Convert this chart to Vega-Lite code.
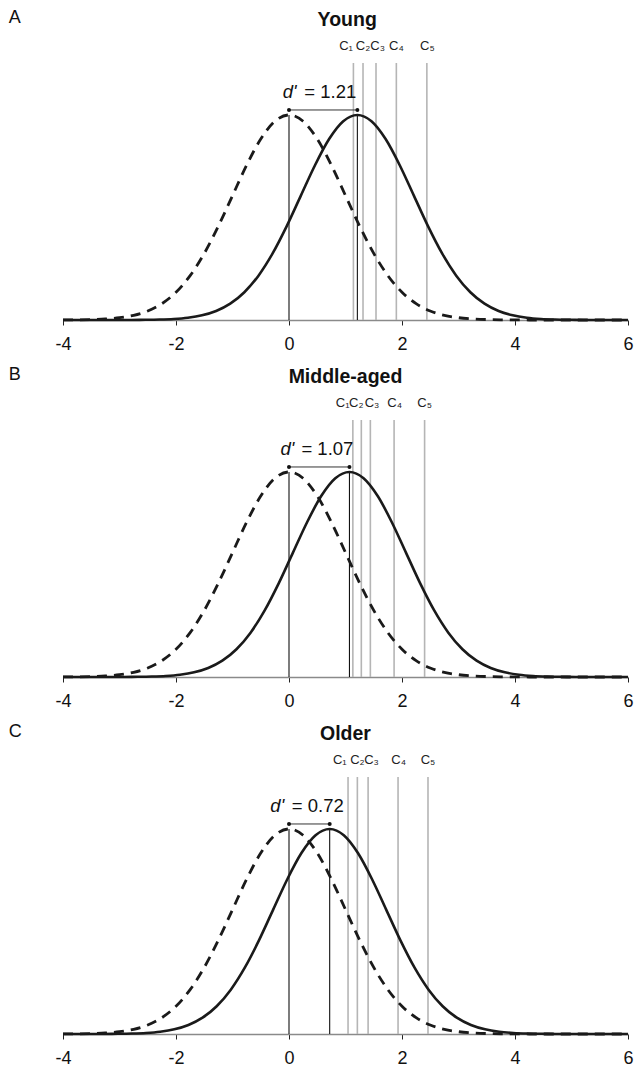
{
  "$schema": "https://vega.github.io/schema/vega-lite/v6.json",
  "padding": {"left": 8, "top": 8, "right": 0, "bottom": 0},
  "background": "white",
  "datasets": {
    "noise": [
      {"x": -4, "y": 0.000134}, {"x": -3.75, "y": 0.000353}, {"x": -3.5, "y": 0.000873}, {"x": -3.25, "y": 0.002029},
      {"x": -3, "y": 0.004432}, {"x": -2.75, "y": 0.009094}, {"x": -2.5, "y": 0.017528}, {"x": -2.25, "y": 0.03174},
      {"x": -2, "y": 0.053991}, {"x": -1.75, "y": 0.086277}, {"x": -1.5, "y": 0.129518}, {"x": -1.25, "y": 0.182649},
      {"x": -1, "y": 0.241971}, {"x": -0.75, "y": 0.301137}, {"x": -0.5, "y": 0.352065}, {"x": -0.25, "y": 0.386668},
      {"x": 0, "y": 0.398942}, {"x": 0.25, "y": 0.386668}, {"x": 0.5, "y": 0.352065}, {"x": 0.75, "y": 0.301137},
      {"x": 1, "y": 0.241971}, {"x": 1.25, "y": 0.182649}, {"x": 1.5, "y": 0.129518}, {"x": 1.75, "y": 0.086277},
      {"x": 2, "y": 0.053991}, {"x": 2.25, "y": 0.03174}, {"x": 2.5, "y": 0.017528}, {"x": 2.75, "y": 0.009094},
      {"x": 3, "y": 0.004432}, {"x": 3.25, "y": 0.002029}, {"x": 3.5, "y": 0.000873}, {"x": 3.75, "y": 0.000353},
      {"x": 4, "y": 0.000134}, {"x": 4.25, "y": 0.000048}, {"x": 4.5, "y": 0.000016}, {"x": 4.75, "y": 0.000005},
      {"x": 5, "y": 0.0000015}, {"x": 5.25, "y": 0.0000004}, {"x": 5.5, "y": 0.0000001}, {"x": 5.75, "y": 0}, {"x": 6, "y": 0}
    ],
    "signal": [
      {"p": "A", "x": -4, "y": 0.0000003}, {"p": "A", "x": -3.79, "y": 0.0000015}, {"p": "A", "x": -3.54, "y": 0.000005},
      {"p": "A", "x": -3.29, "y": 0.000016}, {"p": "A", "x": -3.04, "y": 0.000048}, {"p": "A", "x": -2.79, "y": 0.000134},
      {"p": "A", "x": -2.54, "y": 0.000353}, {"p": "A", "x": -2.29, "y": 0.000873}, {"p": "A", "x": -2.04, "y": 0.002029},
      {"p": "A", "x": -1.79, "y": 0.004432}, {"p": "A", "x": -1.54, "y": 0.009094}, {"p": "A", "x": -1.29, "y": 0.017528},
      {"p": "A", "x": -1.04, "y": 0.03174}, {"p": "A", "x": -0.79, "y": 0.053991}, {"p": "A", "x": -0.54, "y": 0.086277},
      {"p": "A", "x": -0.29, "y": 0.129518}, {"p": "A", "x": -0.04, "y": 0.182649}, {"p": "A", "x": 0.21, "y": 0.241971},
      {"p": "A", "x": 0.46, "y": 0.301137}, {"p": "A", "x": 0.71, "y": 0.352065}, {"p": "A", "x": 0.96, "y": 0.386668},
      {"p": "A", "x": 1.21, "y": 0.398942}, {"p": "A", "x": 1.46, "y": 0.386668}, {"p": "A", "x": 1.71, "y": 0.352065},
      {"p": "A", "x": 1.96, "y": 0.301137}, {"p": "A", "x": 2.21, "y": 0.241971}, {"p": "A", "x": 2.46, "y": 0.182649},
      {"p": "A", "x": 2.71, "y": 0.129518}, {"p": "A", "x": 2.96, "y": 0.086277}, {"p": "A", "x": 3.21, "y": 0.053991},
      {"p": "A", "x": 3.46, "y": 0.03174}, {"p": "A", "x": 3.71, "y": 0.017528}, {"p": "A", "x": 3.96, "y": 0.009094},
      {"p": "A", "x": 4.21, "y": 0.004432}, {"p": "A", "x": 4.46, "y": 0.002029}, {"p": "A", "x": 4.71, "y": 0.000873},
      {"p": "A", "x": 4.96, "y": 0.000353}, {"p": "A", "x": 5.21, "y": 0.000134}, {"p": "A", "x": 5.46, "y": 0.000048},
      {"p": "A", "x": 5.71, "y": 0.000016}, {"p": "A", "x": 5.96, "y": 0.000005}, {"p": "A", "x": 6, "y": 0.000004},

      {"p": "B", "x": -4, "y": 0.000001}, {"p": "B", "x": -3.93, "y": 0.0000015}, {"p": "B", "x": -3.68, "y": 0.000005},
      {"p": "B", "x": -3.43, "y": 0.000016}, {"p": "B", "x": -3.18, "y": 0.000048}, {"p": "B", "x": -2.93, "y": 0.000134},
      {"p": "B", "x": -2.68, "y": 0.000353}, {"p": "B", "x": -2.43, "y": 0.000873}, {"p": "B", "x": -2.18, "y": 0.002029},
      {"p": "B", "x": -1.93, "y": 0.004432}, {"p": "B", "x": -1.68, "y": 0.009094}, {"p": "B", "x": -1.43, "y": 0.017528},
      {"p": "B", "x": -1.18, "y": 0.03174}, {"p": "B", "x": -0.93, "y": 0.053991}, {"p": "B", "x": -0.68, "y": 0.086277},
      {"p": "B", "x": -0.43, "y": 0.129518}, {"p": "B", "x": -0.18, "y": 0.182649}, {"p": "B", "x": 0.07, "y": 0.241971},
      {"p": "B", "x": 0.32, "y": 0.301137}, {"p": "B", "x": 0.57, "y": 0.352065}, {"p": "B", "x": 0.82, "y": 0.386668},
      {"p": "B", "x": 1.07, "y": 0.398942}, {"p": "B", "x": 1.32, "y": 0.386668}, {"p": "B", "x": 1.57, "y": 0.352065},
      {"p": "B", "x": 1.82, "y": 0.301137}, {"p": "B", "x": 2.07, "y": 0.241971}, {"p": "B", "x": 2.32, "y": 0.182649},
      {"p": "B", "x": 2.57, "y": 0.129518}, {"p": "B", "x": 2.82, "y": 0.086277}, {"p": "B", "x": 3.07, "y": 0.053991},
      {"p": "B", "x": 3.32, "y": 0.03174}, {"p": "B", "x": 3.57, "y": 0.017528}, {"p": "B", "x": 3.82, "y": 0.009094},
      {"p": "B", "x": 4.07, "y": 0.004432}, {"p": "B", "x": 4.32, "y": 0.002029}, {"p": "B", "x": 4.57, "y": 0.000873},
      {"p": "B", "x": 4.82, "y": 0.000353}, {"p": "B", "x": 5.07, "y": 0.000134}, {"p": "B", "x": 5.32, "y": 0.000048},
      {"p": "B", "x": 5.57, "y": 0.000016}, {"p": "B", "x": 5.82, "y": 0.000005}, {"p": "B", "x": 6, "y": 0.000002},

      {"p": "C", "x": -4, "y": 0.0000057}, {"p": "C", "x": -3.78, "y": 0.000016}, {"p": "C", "x": -3.53, "y": 0.000048},
      {"p": "C", "x": -3.28, "y": 0.000134}, {"p": "C", "x": -3.03, "y": 0.000353}, {"p": "C", "x": -2.78, "y": 0.000873},
      {"p": "C", "x": -2.53, "y": 0.002029}, {"p": "C", "x": -2.28, "y": 0.004432}, {"p": "C", "x": -2.03, "y": 0.009094},
      {"p": "C", "x": -1.78, "y": 0.017528}, {"p": "C", "x": -1.53, "y": 0.03174}, {"p": "C", "x": -1.28, "y": 0.053991},
      {"p": "C", "x": -1.03, "y": 0.086277}, {"p": "C", "x": -0.78, "y": 0.129518}, {"p": "C", "x": -0.53, "y": 0.182649},
      {"p": "C", "x": -0.28, "y": 0.241971}, {"p": "C", "x": -0.03, "y": 0.301137}, {"p": "C", "x": 0.22, "y": 0.352065},
      {"p": "C", "x": 0.47, "y": 0.386668}, {"p": "C", "x": 0.72, "y": 0.398942}, {"p": "C", "x": 0.97, "y": 0.386668},
      {"p": "C", "x": 1.22, "y": 0.352065}, {"p": "C", "x": 1.47, "y": 0.301137}, {"p": "C", "x": 1.72, "y": 0.241971},
      {"p": "C", "x": 1.97, "y": 0.182649}, {"p": "C", "x": 2.22, "y": 0.129518}, {"p": "C", "x": 2.47, "y": 0.086277},
      {"p": "C", "x": 2.72, "y": 0.053991}, {"p": "C", "x": 2.97, "y": 0.03174}, {"p": "C", "x": 3.22, "y": 0.017528},
      {"p": "C", "x": 3.47, "y": 0.009094}, {"p": "C", "x": 3.72, "y": 0.004432}, {"p": "C", "x": 3.97, "y": 0.002029},
      {"p": "C", "x": 4.22, "y": 0.000873}, {"p": "C", "x": 4.47, "y": 0.000353}, {"p": "C", "x": 4.72, "y": 0.000134},
      {"p": "C", "x": 4.97, "y": 0.000048}, {"p": "C", "x": 5.22, "y": 0.000016}, {"p": "C", "x": 5.47, "y": 0.000005},
      {"p": "C", "x": 5.72, "y": 0.0000015}, {"p": "C", "x": 5.97, "y": 0.0000004}, {"p": "C", "x": 6, "y": 0.0000003}
    ],
    "crit": [
      {"p": "A", "c": "C₁", "x": 1.14, "lx": 1.01}, {"p": "A", "c": "C₂", "x": 1.31, "lx": 1.31},
      {"p": "A", "c": "C₃", "x": 1.54, "lx": 1.57}, {"p": "A", "c": "C₄", "x": 1.9, "lx": 1.9},
      {"p": "A", "c": "C₅", "x": 2.44, "lx": 2.45},
      {"p": "B", "c": "C₁", "x": 1.13, "lx": 0.95}, {"p": "B", "c": "C₂", "x": 1.28, "lx": 1.19},
      {"p": "B", "c": "C₃", "x": 1.44, "lx": 1.47}, {"p": "B", "c": "C₄", "x": 1.86, "lx": 1.87},
      {"p": "B", "c": "C₅", "x": 2.4, "lx": 2.4},
      {"p": "C", "c": "C₁", "x": 1.045, "lx": 0.9}, {"p": "C", "c": "C₂", "x": 1.21, "lx": 1.21},
      {"p": "C", "c": "C₃", "x": 1.4, "lx": 1.46}, {"p": "C", "c": "C₄", "x": 1.93, "lx": 1.94},
      {"p": "C", "c": "C₅", "x": 2.46, "lx": 2.46}
    ],
    "dprime": [
      {"p": "A", "d": 1.21, "t": "= 1.21", "dx0": -0.11, "ex": 0.27, "L": "A", "title": "Young"},
      {"p": "B", "d": 1.07, "t": "= 1.07", "dx0": -0.15, "ex": 0.22, "L": "B", "title": "Middle-aged"},
      {"p": "C", "d": 0.72, "t": "= 0.72", "dx0": -0.33, "ex": 0.05, "L": "C", "title": "Older"}
    ]
  },
  "vconcat": [
    {
      "width": 565, "height": 257,
      "layer": [
        {"data": {"name": "crit"}, "transform": [{"filter": "datum.p == 'A'"}],
         "mark": {"type": "rule", "color": "#b5b5b5", "strokeWidth": 1.6},
         "encoding": {"x": {"field": "x", "type": "quantitative", "scale": {"domain": [-4, 6], "nice": false, "zero": false}, "axis": {"title": null, "values": [-4, -2, 0, 2, 4, 6]}}}},
        {"data": {"name": "dprime"}, "transform": [{"filter": "datum.p == 'A'"}],
         "mark": {"type": "rule", "color": "#111", "strokeWidth": 1.1},
         "encoding": {"x": {"datum": 0, "type": "quantitative", "scale": {"domain": [-4, 6]}, "axis": {"title": null, "values": [-4, -2, 0, 2, 4, 6]}},
           "y": {"datum": 0, "type": "quantitative", "scale": {"domain": [0, 0.5]}, "axis": null}, "y2": {"datum": 0.398942}}},
        {"data": {"name": "dprime"}, "transform": [{"filter": "datum.p == 'A'"}],
         "mark": {"type": "rule", "color": "#111", "strokeWidth": 1.1},
         "encoding": {"x": {"field": "d", "type": "quantitative", "scale": {"domain": [-4, 6]}, "axis": {"title": null, "values": [-4, -2, 0, 2, 4, 6]}},
           "y": {"datum": 0, "type": "quantitative", "scale": {"domain": [0, 0.5]}, "axis": null}, "y2": {"datum": 0.398942}}},
        {"data": {"name": "noise"},
         "mark": {"type": "line", "color": "#1a1a1a", "strokeWidth": 2.8, "strokeDash": [10, 7], "interpolate": "monotone"},
         "encoding": {"x": {"field": "x", "type": "quantitative", "scale": {"domain": [-4, 6]}, "axis": {"title": null, "values": [-4, -2, 0, 2, 4, 6]}},
           "y": {"field": "y", "type": "quantitative", "scale": {"domain": [0, 0.5]}, "axis": null}}},
        {"data": {"name": "signal"}, "transform": [{"filter": "datum.p == 'A'"}],
         "mark": {"type": "line", "color": "#1a1a1a", "strokeWidth": 2.6, "interpolate": "monotone"},
         "encoding": {"x": {"field": "x", "type": "quantitative", "scale": {"domain": [-4, 6]}, "axis": {"title": null, "values": [-4, -2, 0, 2, 4, 6]}},
           "y": {"field": "y", "type": "quantitative", "scale": {"domain": [0, 0.5]}, "axis": null}}},
        {"data": {"name": "dprime"}, "transform": [{"filter": "datum.p == 'A'"}],
         "mark": {"type": "rule", "color": "#333", "strokeWidth": 1},
         "encoding": {"x": {"field": "d", "type": "quantitative", "scale": {"domain": [-4, 6]}, "axis": {"title": null, "values": [-4, -2, 0, 2, 4, 6]}}, "x2": {"datum": 0},
           "y": {"datum": 0.4086, "type": "quantitative", "scale": {"domain": [0, 0.5]}, "axis": null}}},
        {"data": {"name": "dprime"}, "transform": [{"filter": "datum.p == 'A'"}],
         "mark": {"type": "point", "filled": true, "color": "#111", "size": 16, "opacity": 1},
         "encoding": {"x": {"datum": 0, "type": "quantitative", "scale": {"domain": [-4, 6]}, "axis": {"title": null, "values": [-4, -2, 0, 2, 4, 6]}},
           "y": {"datum": 0.4086, "type": "quantitative", "scale": {"domain": [0, 0.5]}, "axis": null}}},
        {"data": {"name": "dprime"}, "transform": [{"filter": "datum.p == 'A'"}],
         "mark": {"type": "point", "filled": true, "color": "#111", "size": 16, "opacity": 1},
         "encoding": {"x": {"field": "d", "type": "quantitative", "scale": {"domain": [-4, 6]}, "axis": {"title": null, "values": [-4, -2, 0, 2, 4, 6]}},
           "y": {"datum": 0.4086, "type": "quantitative", "scale": {"domain": [0, 0.5]}, "axis": null}}},
        {"data": {"name": "dprime"}, "transform": [{"filter": "datum.p == 'A'"}],
         "mark": {"type": "text", "text": "d'", "font": "Liberation Sans", "fontStyle": "italic", "fontSize": 18.5, "align": "left", "baseline": "alphabetic", "color": "#111", "clip": false},
         "encoding": {"x": {"field": "dx0", "type": "quantitative", "scale": {"domain": [-4, 6]}, "axis": {"title": null, "values": [-4, -2, 0, 2, 4, 6]}},
           "y": {"datum": 0.432, "type": "quantitative", "scale": {"domain": [0, 0.5]}, "axis": null}}},
        {"data": {"name": "dprime"}, "transform": [{"filter": "datum.p == 'A'"}],
         "mark": {"type": "text", "font": "Liberation Sans", "fontSize": 18.5, "align": "left", "baseline": "alphabetic", "color": "#111", "clip": false},
         "encoding": {"x": {"field": "ex", "type": "quantitative", "scale": {"domain": [-4, 6]}, "axis": {"title": null, "values": [-4, -2, 0, 2, 4, 6]}},
           "y": {"datum": 0.432, "type": "quantitative", "scale": {"domain": [0, 0.5]}, "axis": null}, "text": {"field": "t"}}},
        {"data": {"name": "crit"}, "transform": [{"filter": "datum.p == 'A'"}],
         "mark": {"type": "text", "font": "Liberation Sans", "fontSize": 13, "align": "center", "baseline": "alphabetic", "color": "#222", "clip": false},
         "encoding": {"x": {"field": "lx", "type": "quantitative", "scale": {"domain": [-4, 6]}, "axis": {"title": null, "values": [-4, -2, 0, 2, 4, 6]}},
           "y": {"datum": 0.526, "type": "quantitative", "scale": {"domain": [0, 0.5]}, "axis": null}, "text": {"field": "c"}}},
        {"data": {"name": "dprime"}, "transform": [{"filter": "datum.p == 'A'"}],
         "mark": {"type": "text", "font": "Liberation Sans", "fontSize": 18, "align": "left", "baseline": "alphabetic", "color": "#111", "clip": false},
         "encoding": {"x": {"datum": -4.96, "type": "quantitative", "scale": {"domain": [-4, 6]}, "axis": {"title": null, "values": [-4, -2, 0, 2, 4, 6]}},
           "y": {"datum": 0.578, "type": "quantitative", "scale": {"domain": [0, 0.5]}, "axis": null}, "text": {"field": "L"}}},
        {"data": {"name": "dprime"}, "transform": [{"filter": "datum.p == 'A'"}],
         "mark": {"type": "text", "font": "Liberation Sans", "fontSize": 19.5, "fontWeight": "bold", "align": "center", "baseline": "alphabetic", "color": "#111", "clip": false},
         "encoding": {"x": {"datum": 1.03, "type": "quantitative", "scale": {"domain": [-4, 6]}, "axis": {"title": null, "values": [-4, -2, 0, 2, 4, 6]}},
           "y": {"datum": 0.572, "type": "quantitative", "scale": {"domain": [0, 0.5]}, "axis": null}, "text": {"field": "title"}}}
      ]
    },
    {
      "width": 565, "height": 257,
      "layer": [
        {"data": {"name": "crit"}, "transform": [{"filter": "datum.p == 'B'"}],
         "mark": {"type": "rule", "color": "#b5b5b5", "strokeWidth": 1.6},
         "encoding": {"x": {"field": "x", "type": "quantitative", "scale": {"domain": [-4, 6], "nice": false, "zero": false}, "axis": {"title": null, "values": [-4, -2, 0, 2, 4, 6]}}}},
        {"data": {"name": "dprime"}, "transform": [{"filter": "datum.p == 'B'"}],
         "mark": {"type": "rule", "color": "#111", "strokeWidth": 1.1},
         "encoding": {"x": {"datum": 0, "type": "quantitative", "scale": {"domain": [-4, 6]}, "axis": {"title": null, "values": [-4, -2, 0, 2, 4, 6]}},
           "y": {"datum": 0, "type": "quantitative", "scale": {"domain": [0, 0.5]}, "axis": null}, "y2": {"datum": 0.398942}}},
        {"data": {"name": "dprime"}, "transform": [{"filter": "datum.p == 'B'"}],
         "mark": {"type": "rule", "color": "#111", "strokeWidth": 1.1},
         "encoding": {"x": {"field": "d", "type": "quantitative", "scale": {"domain": [-4, 6]}, "axis": {"title": null, "values": [-4, -2, 0, 2, 4, 6]}},
           "y": {"datum": 0, "type": "quantitative", "scale": {"domain": [0, 0.5]}, "axis": null}, "y2": {"datum": 0.398942}}},
        {"data": {"name": "noise"},
         "mark": {"type": "line", "color": "#1a1a1a", "strokeWidth": 2.8, "strokeDash": [10, 7], "interpolate": "monotone"},
         "encoding": {"x": {"field": "x", "type": "quantitative", "scale": {"domain": [-4, 6]}, "axis": {"title": null, "values": [-4, -2, 0, 2, 4, 6]}},
           "y": {"field": "y", "type": "quantitative", "scale": {"domain": [0, 0.5]}, "axis": null}}},
        {"data": {"name": "signal"}, "transform": [{"filter": "datum.p == 'B'"}],
         "mark": {"type": "line", "color": "#1a1a1a", "strokeWidth": 2.6, "interpolate": "monotone"},
         "encoding": {"x": {"field": "x", "type": "quantitative", "scale": {"domain": [-4, 6]}, "axis": {"title": null, "values": [-4, -2, 0, 2, 4, 6]}},
           "y": {"field": "y", "type": "quantitative", "scale": {"domain": [0, 0.5]}, "axis": null}}},
        {"data": {"name": "dprime"}, "transform": [{"filter": "datum.p == 'B'"}],
         "mark": {"type": "rule", "color": "#333", "strokeWidth": 1},
         "encoding": {"x": {"field": "d", "type": "quantitative", "scale": {"domain": [-4, 6]}, "axis": {"title": null, "values": [-4, -2, 0, 2, 4, 6]}}, "x2": {"datum": 0},
           "y": {"datum": 0.4086, "type": "quantitative", "scale": {"domain": [0, 0.5]}, "axis": null}}},
        {"data": {"name": "dprime"}, "transform": [{"filter": "datum.p == 'B'"}],
         "mark": {"type": "point", "filled": true, "color": "#111", "size": 16, "opacity": 1},
         "encoding": {"x": {"datum": 0, "type": "quantitative", "scale": {"domain": [-4, 6]}, "axis": {"title": null, "values": [-4, -2, 0, 2, 4, 6]}},
           "y": {"datum": 0.4086, "type": "quantitative", "scale": {"domain": [0, 0.5]}, "axis": null}}},
        {"data": {"name": "dprime"}, "transform": [{"filter": "datum.p == 'B'"}],
         "mark": {"type": "point", "filled": true, "color": "#111", "size": 16, "opacity": 1},
         "encoding": {"x": {"field": "d", "type": "quantitative", "scale": {"domain": [-4, 6]}, "axis": {"title": null, "values": [-4, -2, 0, 2, 4, 6]}},
           "y": {"datum": 0.4086, "type": "quantitative", "scale": {"domain": [0, 0.5]}, "axis": null}}},
        {"data": {"name": "dprime"}, "transform": [{"filter": "datum.p == 'B'"}],
         "mark": {"type": "text", "text": "d'", "font": "Liberation Sans", "fontStyle": "italic", "fontSize": 18.5, "align": "left", "baseline": "alphabetic", "color": "#111", "clip": false},
         "encoding": {"x": {"field": "dx0", "type": "quantitative", "scale": {"domain": [-4, 6]}, "axis": {"title": null, "values": [-4, -2, 0, 2, 4, 6]}},
           "y": {"datum": 0.432, "type": "quantitative", "scale": {"domain": [0, 0.5]}, "axis": null}}},
        {"data": {"name": "dprime"}, "transform": [{"filter": "datum.p == 'B'"}],
         "mark": {"type": "text", "font": "Liberation Sans", "fontSize": 18.5, "align": "left", "baseline": "alphabetic", "color": "#111", "clip": false},
         "encoding": {"x": {"field": "ex", "type": "quantitative", "scale": {"domain": [-4, 6]}, "axis": {"title": null, "values": [-4, -2, 0, 2, 4, 6]}},
           "y": {"datum": 0.432, "type": "quantitative", "scale": {"domain": [0, 0.5]}, "axis": null}, "text": {"field": "t"}}},
        {"data": {"name": "crit"}, "transform": [{"filter": "datum.p == 'B'"}],
         "mark": {"type": "text", "font": "Liberation Sans", "fontSize": 13, "align": "center", "baseline": "alphabetic", "color": "#222", "clip": false},
         "encoding": {"x": {"field": "lx", "type": "quantitative", "scale": {"domain": [-4, 6]}, "axis": {"title": null, "values": [-4, -2, 0, 2, 4, 6]}},
           "y": {"datum": 0.526, "type": "quantitative", "scale": {"domain": [0, 0.5]}, "axis": null}, "text": {"field": "c"}}},
        {"data": {"name": "dprime"}, "transform": [{"filter": "datum.p == 'B'"}],
         "mark": {"type": "text", "font": "Liberation Sans", "fontSize": 18, "align": "left", "baseline": "alphabetic", "color": "#111", "clip": false},
         "encoding": {"x": {"datum": -4.96, "type": "quantitative", "scale": {"domain": [-4, 6]}, "axis": {"title": null, "values": [-4, -2, 0, 2, 4, 6]}},
           "y": {"datum": 0.578, "type": "quantitative", "scale": {"domain": [0, 0.5]}, "axis": null}, "text": {"field": "L"}}},
        {"data": {"name": "dprime"}, "transform": [{"filter": "datum.p == 'B'"}],
         "mark": {"type": "text", "font": "Liberation Sans", "fontSize": 19.5, "fontWeight": "bold", "align": "center", "baseline": "alphabetic", "color": "#111", "clip": false},
         "encoding": {"x": {"datum": 1.0, "type": "quantitative", "scale": {"domain": [-4, 6]}, "axis": {"title": null, "values": [-4, -2, 0, 2, 4, 6]}},
           "y": {"datum": 0.572, "type": "quantitative", "scale": {"domain": [0, 0.5]}, "axis": null}, "text": {"field": "title"}}}
      ]
    },
    {
      "width": 565, "height": 257,
      "layer": [
        {"data": {"name": "crit"}, "transform": [{"filter": "datum.p == 'C'"}],
         "mark": {"type": "rule", "color": "#b5b5b5", "strokeWidth": 1.6},
         "encoding": {"x": {"field": "x", "type": "quantitative", "scale": {"domain": [-4, 6], "nice": false, "zero": false}, "axis": {"title": null, "values": [-4, -2, 0, 2, 4, 6]}}}},
        {"data": {"name": "dprime"}, "transform": [{"filter": "datum.p == 'C'"}],
         "mark": {"type": "rule", "color": "#111", "strokeWidth": 1.1},
         "encoding": {"x": {"datum": 0, "type": "quantitative", "scale": {"domain": [-4, 6]}, "axis": {"title": null, "values": [-4, -2, 0, 2, 4, 6]}},
           "y": {"datum": 0, "type": "quantitative", "scale": {"domain": [0, 0.5]}, "axis": null}, "y2": {"datum": 0.398942}}},
        {"data": {"name": "dprime"}, "transform": [{"filter": "datum.p == 'C'"}],
         "mark": {"type": "rule", "color": "#111", "strokeWidth": 1.1},
         "encoding": {"x": {"field": "d", "type": "quantitative", "scale": {"domain": [-4, 6]}, "axis": {"title": null, "values": [-4, -2, 0, 2, 4, 6]}},
           "y": {"datum": 0, "type": "quantitative", "scale": {"domain": [0, 0.5]}, "axis": null}, "y2": {"datum": 0.398942}}},
        {"data": {"name": "noise"},
         "mark": {"type": "line", "color": "#1a1a1a", "strokeWidth": 2.8, "strokeDash": [10, 7], "interpolate": "monotone"},
         "encoding": {"x": {"field": "x", "type": "quantitative", "scale": {"domain": [-4, 6]}, "axis": {"title": null, "values": [-4, -2, 0, 2, 4, 6]}},
           "y": {"field": "y", "type": "quantitative", "scale": {"domain": [0, 0.5]}, "axis": null}}},
        {"data": {"name": "signal"}, "transform": [{"filter": "datum.p == 'C'"}],
         "mark": {"type": "line", "color": "#1a1a1a", "strokeWidth": 2.6, "interpolate": "monotone"},
         "encoding": {"x": {"field": "x", "type": "quantitative", "scale": {"domain": [-4, 6]}, "axis": {"title": null, "values": [-4, -2, 0, 2, 4, 6]}},
           "y": {"field": "y", "type": "quantitative", "scale": {"domain": [0, 0.5]}, "axis": null}}},
        {"data": {"name": "dprime"}, "transform": [{"filter": "datum.p == 'C'"}],
         "mark": {"type": "rule", "color": "#333", "strokeWidth": 1},
         "encoding": {"x": {"field": "d", "type": "quantitative", "scale": {"domain": [-4, 6]}, "axis": {"title": null, "values": [-4, -2, 0, 2, 4, 6]}}, "x2": {"datum": 0},
           "y": {"datum": 0.4086, "type": "quantitative", "scale": {"domain": [0, 0.5]}, "axis": null}}},
        {"data": {"name": "dprime"}, "transform": [{"filter": "datum.p == 'C'"}],
         "mark": {"type": "point", "filled": true, "color": "#111", "size": 16, "opacity": 1},
         "encoding": {"x": {"datum": 0, "type": "quantitative", "scale": {"domain": [-4, 6]}, "axis": {"title": null, "values": [-4, -2, 0, 2, 4, 6]}},
           "y": {"datum": 0.4086, "type": "quantitative", "scale": {"domain": [0, 0.5]}, "axis": null}}},
        {"data": {"name": "dprime"}, "transform": [{"filter": "datum.p == 'C'"}],
         "mark": {"type": "point", "filled": true, "color": "#111", "size": 16, "opacity": 1},
         "encoding": {"x": {"field": "d", "type": "quantitative", "scale": {"domain": [-4, 6]}, "axis": {"title": null, "values": [-4, -2, 0, 2, 4, 6]}},
           "y": {"datum": 0.4086, "type": "quantitative", "scale": {"domain": [0, 0.5]}, "axis": null}}},
        {"data": {"name": "dprime"}, "transform": [{"filter": "datum.p == 'C'"}],
         "mark": {"type": "text", "text": "d'", "font": "Liberation Sans", "fontStyle": "italic", "fontSize": 18.5, "align": "left", "baseline": "alphabetic", "color": "#111", "clip": false},
         "encoding": {"x": {"field": "dx0", "type": "quantitative", "scale": {"domain": [-4, 6]}, "axis": {"title": null, "values": [-4, -2, 0, 2, 4, 6]}},
           "y": {"datum": 0.432, "type": "quantitative", "scale": {"domain": [0, 0.5]}, "axis": null}}},
        {"data": {"name": "dprime"}, "transform": [{"filter": "datum.p == 'C'"}],
         "mark": {"type": "text", "font": "Liberation Sans", "fontSize": 18.5, "align": "left", "baseline": "alphabetic", "color": "#111", "clip": false},
         "encoding": {"x": {"field": "ex", "type": "quantitative", "scale": {"domain": [-4, 6]}, "axis": {"title": null, "values": [-4, -2, 0, 2, 4, 6]}},
           "y": {"datum": 0.432, "type": "quantitative", "scale": {"domain": [0, 0.5]}, "axis": null}, "text": {"field": "t"}}},
        {"data": {"name": "crit"}, "transform": [{"filter": "datum.p == 'C'"}],
         "mark": {"type": "text", "font": "Liberation Sans", "fontSize": 13, "align": "center", "baseline": "alphabetic", "color": "#222", "clip": false},
         "encoding": {"x": {"field": "lx", "type": "quantitative", "scale": {"domain": [-4, 6]}, "axis": {"title": null, "values": [-4, -2, 0, 2, 4, 6]}},
           "y": {"datum": 0.526, "type": "quantitative", "scale": {"domain": [0, 0.5]}, "axis": null}, "text": {"field": "c"}}},
        {"data": {"name": "dprime"}, "transform": [{"filter": "datum.p == 'C'"}],
         "mark": {"type": "text", "font": "Liberation Sans", "fontSize": 18, "align": "left", "baseline": "alphabetic", "color": "#111", "clip": false},
         "encoding": {"x": {"datum": -4.96, "type": "quantitative", "scale": {"domain": [-4, 6]}, "axis": {"title": null, "values": [-4, -2, 0, 2, 4, 6]}},
           "y": {"datum": 0.578, "type": "quantitative", "scale": {"domain": [0, 0.5]}, "axis": null}, "text": {"field": "L"}}},
        {"data": {"name": "dprime"}, "transform": [{"filter": "datum.p == 'C'"}],
         "mark": {"type": "text", "font": "Liberation Sans", "fontSize": 19.5, "fontWeight": "bold", "align": "center", "baseline": "alphabetic", "color": "#111", "clip": false},
         "encoding": {"x": {"datum": 1.0, "type": "quantitative", "scale": {"domain": [-4, 6]}, "axis": {"title": null, "values": [-4, -2, 0, 2, 4, 6]}},
           "y": {"datum": 0.572, "type": "quantitative", "scale": {"domain": [0, 0.5]}, "axis": null}, "text": {"field": "title"}}}
      ]
    }
  ],
  "spacing": 100,
  "bounds": "flush",
  "config": {
    "view": {"stroke": null},
    "axisX": {"grid": false, "labelFontSize": 18, "labelFont": "Liberation Sans", "labelColor": "#111", "labelPadding": 10, "tickSize": 5, "tickColor": "#222", "domainColor": "#8a8a8a", "domainWidth": 1.5, "labelFlush": false, "labelOverlap": false, "labelExpr": "'' + datum.value"}
  }
}
